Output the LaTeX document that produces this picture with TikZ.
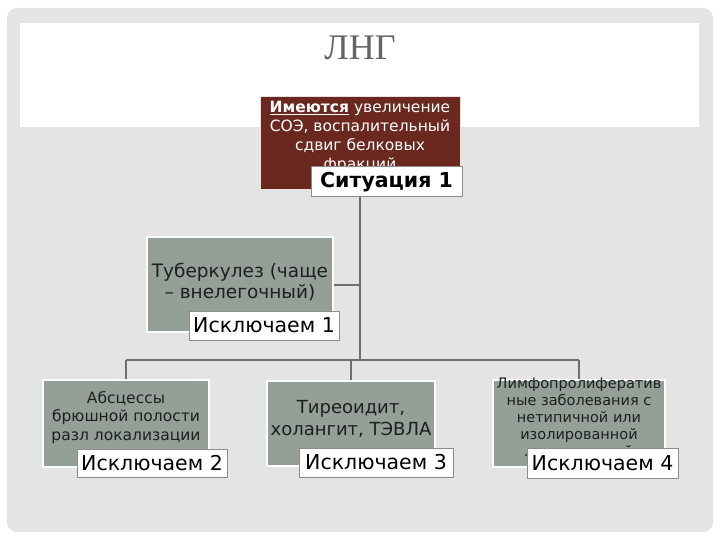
\documentclass[tikz,border=0pt]{standalone}
\usepackage{fontspec}
\setmainfont{DejaVu Sans}
\newfontfamily\titlefont{Liberation Serif}

\definecolor{bgpanel}{HTML}{E4E4E4}
\definecolor{sitred}{HTML}{6B281E}
\definecolor{sagebox}{HTML}{939F97}
\definecolor{linkgray}{HTML}{6E6E6E}
\definecolor{tagline}{HTML}{8C8C8C}
\definecolor{titlegray}{HTML}{646464}

\tikzset{
    box/.style={draw=white, line width=1.5pt, fill=sagebox, inner sep=0pt},
    boxtext/.style={align=center, inner sep=0pt, text=black!88},
    tag/.style={draw=tagline, line width=1pt, fill=white, inner sep=0pt,
        font=\fontsize{20.5}{23}\selectfont},
    link/.style={draw=linkgray, line width=2pt},
}

\begin{document}
\begin{tikzpicture}[x=1pt,y=-1pt]
\useasboundingbox (0,0) rectangle (720,540);

% ===== Фон слайда =====
\fill[white] (0,0) rectangle (720,540);
\fill[bgpanel, rounded corners=10pt] (7,8) rectangle (713,532);
\fill[white] (20,23) rectangle (699,127);

\node[font=\titlefont\fontsize{36}{36}\selectfont, text=titlegray] (title) at (360,48) {ЛНГ};

% ===== Блоки =====
\node[box, fill=sitred, draw=white!85!sitred, line width=1pt, minimum width=200, minimum height=93] (sit) at (360,143.5) {};
\node[box, minimum width=186, minimum height=95] (tb) at (240,284.5) {};
\node[box, minimum width=166, minimum height=87] (ab) at (126,423.5) {};
\node[box, minimum width=168, minimum height=85] (ty) at (351,423.5) {};
\node[box, minimum width=172, minimum height=87] (ly) at (579,423.5) {};

% ===== Тексты блоков =====
\node[boxtext, text=white, font=\fontsize{15.5}{19}\selectfont] (sittxt) at (360,137)
    {\underline{\textbf{Имеются}} увеличение\\СОЭ, воспалительный\\сдвиг белковых\\фракций};
\node[boxtext, font=\fontsize{18.5}{21}\selectfont] (tbtxt) at (240,282.5)
    {Туберкулез (чаще\\– внелегочный)};
\node[boxtext, font=\fontsize{15.5}{18.5}\selectfont] (abtxt) at (126,417.5)
    {Абсцессы\\брюшной полости\\разл локализации};
\node[boxtext, font=\fontsize{18}{22}\selectfont] (tytxt) at (351,419)
    {Тиреоидит,\\холангит, ТЭВЛА};
\node[boxtext, font=\fontsize{14.5}{17}\selectfont] (lytxt) at (579,418)
    {Лимфопролифератив\\ные заболевания с\\нетипичной или\\изолированной\\локализацией};

% ===== Ярлыки =====
\node[tag, font=\bfseries\fontsize{20.5}{23}\selectfont, minimum width=151, minimum height=30] (sittag) at (386.5,182) {Ситуация 1};
\node[tag, minimum width=150, minimum height=29] (tbtag) at (264,325.5) {Исключаем 1};
\node[tag, minimum width=150, minimum height=28] (abtag) at (152,463) {Исключаем 2};
\node[tag, minimum width=154, minimum height=29] (tytag) at (376,462.5) {Исключаем 3};
\node[tag, minimum width=151, minimum height=30] (lytag) at (602.5,463) {Исключаем 4};

% ===== Связи =====
\coordinate (bus) at (0,360);
\draw[link] (sit.south |- sittag.south) -- (sit |- bus);
\draw[link] (tb.east) -- (tb.east -| sit);
\draw[link] (ab.north |- bus) -- (ly.north |- bus);
\draw[link] (ab.north |- bus) -- (ab.north);
\draw[link] (ty.north |- bus) -- (ty.north);
\draw[link] (ly.north |- bus) -- (ly.north);

\end{tikzpicture}
\end{document}
